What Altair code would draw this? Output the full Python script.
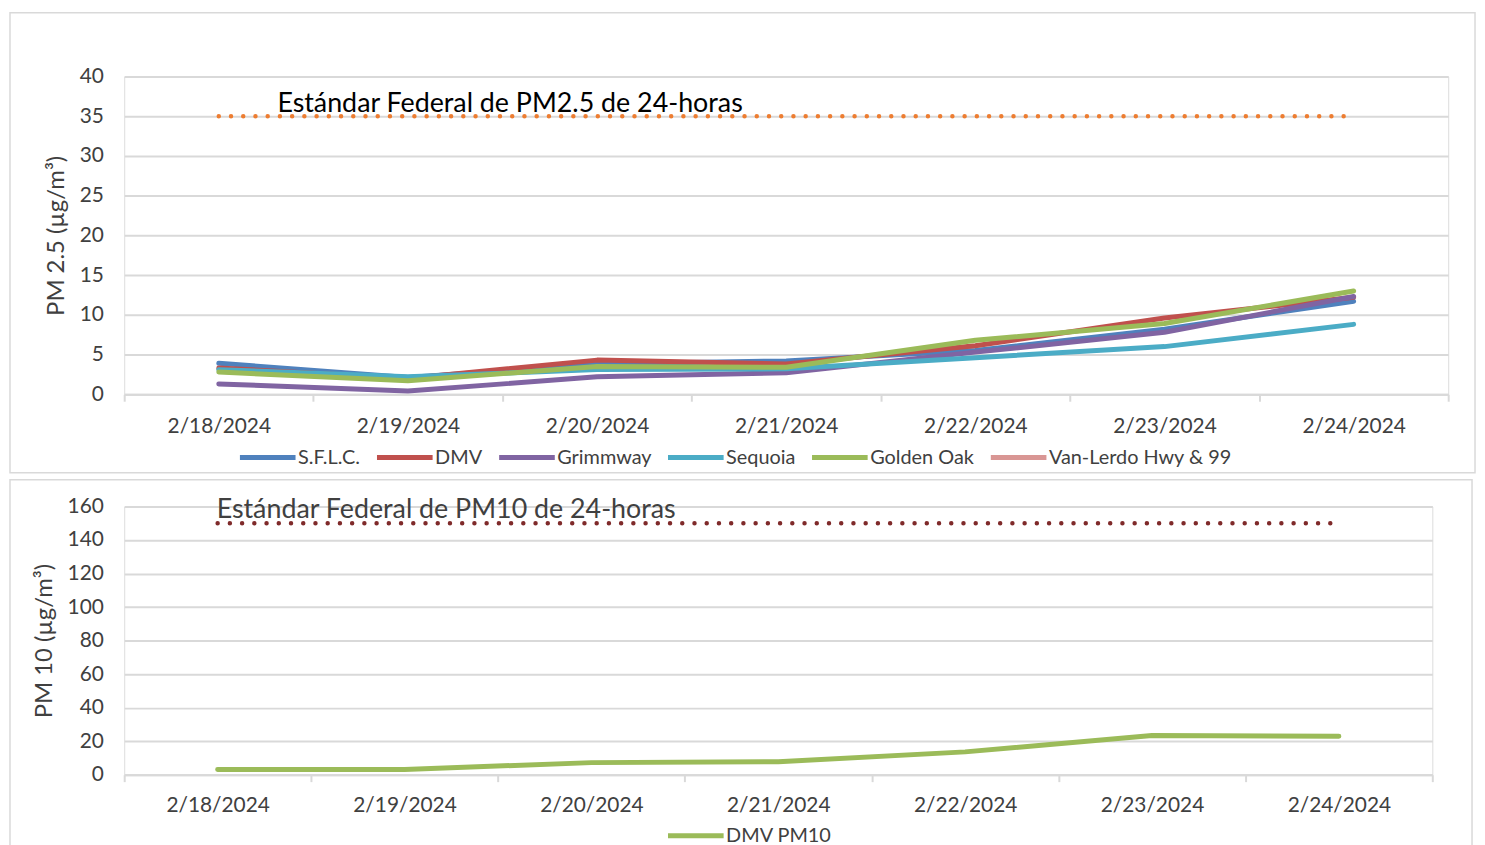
import altair as alt
import pandas as pd

dates = ["2/18/2024", "2/19/2024", "2/20/2024", "2/21/2024", "2/22/2024", "2/23/2024", "2/24/2024"]
series_names = ["S.F.L.C.", "DMV", "Grimmway", "Sequoia", "Golden Oak", "Van-Lerdo Hwy & 99"]
series_colors = ["#4F81BD", "#C0504D", "#8064A2", "#4BACC6", "#9BBB59", "#D99694"]
sflc = [3.9, 2.1, 3.8, 4.2, 5.5, 8.2, 11.7]
dmv = [3.3, 2.0, 4.3, 3.8, 6.1, 9.6, 12.2]
grimmway = [1.3, 0.4, 2.2, 2.7, 5.3, 7.8, 12.3]
sequoia = [3.1, 2.2, 3.1, 3.2, 4.6, 6.0, 8.8]
golden_oak = [2.8, 1.7, 3.5, 3.4, 6.8, 8.9, 13.0]
pm10_dmv = [3.1, 3.1, 7.2, 7.7, 13.6, 23.4, 22.9]
pm25_standard = 35
pm10_standard = 150
pm25_label = "Estándar Federal de PM2.5 de 24-horas"
pm10_label = "Estándar Federal de PM10 de 24-horas"

FONT = "Lato"
TXT = "#404040"
GRID = "#D9D9D9"

rows = []
for name, vals in zip(series_names[:5], [sflc, dmv, grimmway, sequoia, golden_oak]):
    for d, v in zip(dates, vals):
        rows.append({"date": d, "series": name, "value": v})
pm25_df = pd.DataFrame(rows)
pm10_df = pd.DataFrame({"date": dates, "series": ["DMV PM10"] * len(dates), "value": pm10_dmv})
std25_df = pd.DataFrame({"date": dates, "value": [pm25_standard] * len(dates)})
std10_df = pd.DataFrame({"date": dates, "value": [pm10_standard] * len(dates)})
lab25_df = pd.DataFrame({"date": [dates[0]], "value": [pm25_standard], "label": [pm25_label]})
lab10_df = pd.DataFrame({"date": [dates[0]], "value": [pm10_standard], "label": [pm10_label]})
one = pd.DataFrame({"k": [0]})


def xenc(pad):
    return alt.X(
        "date:O",
        bandPosition=0.5,
        scale=alt.Scale(type="band", domain=dates, paddingInner=0, paddingOuter=0),
        axis=alt.Axis(
            title=None, labelAngle=0, tickBand="extent", grid=False,
            domainColor=GRID, domainWidth=2, tickColor=GRID, tickWidth=2, tickSize=7,
            labelPadding=pad, labelFontSize=21, labelColor=TXT, labelFont=FONT,
        ),
    )


def yenc(title, dom, step):
    return alt.Y(
        "value:Q",
        scale=alt.Scale(domain=dom, nice=False, zero=True),
        axis=alt.Axis(
            title=title, values=list(range(dom[0], dom[1] + 1, step)), domain=False, ticks=False,
            grid=True, gridColor=GRID, gridWidth=2, labelPadding=21, labelFontSize=21,
            labelColor=TXT, labelFont=FONT, titleFont=FONT, titleFontSize=24,
            titleFontWeight="normal", titleColor=TXT, titlePadding=11, labelOverlap=False,
        ),
    )


def border(x1, x2, y1, y2):
    return alt.Chart(one).mark_rect(fill="transparent", stroke=GRID, strokeWidth=1.5).encode(
        x=alt.value(x1), x2=alt.value(x2), y=alt.value(y1), y2=alt.value(y2)
    )


# ---- top chart: PM2.5
Y25 = yenc("PM 2.5 (µg/m³)", [0, 40], 5)
top_lines = alt.Chart(pm25_df).mark_line(strokeWidth=5, strokeCap="round", strokeJoin="round").encode(
    x=xenc(14),
    y=Y25,
    color=alt.Color(
        "series:N",
        scale=alt.Scale(domain=series_names, range=series_colors),
        legend=alt.Legend(
            title=None, orient="none", direction="horizontal", columns=6,
            legendX=114, legendY=353, symbolType="stroke", symbolSize=3136,
            symbolStrokeWidth=5, labelFont=FONT, labelFontSize=20, labelColor=TXT,
            labelOffset=0, columnPadding=6, labelLimit=0,
        ),
    ),
    detail="series:N",
)
top_std = alt.Chart(std25_df).mark_line(
    color="#ED7D31", strokeWidth=4.5, strokeDash=[0.01, 12.3], strokeCap="round"
).encode(x=xenc(14), y=Y25)
top_lab = alt.Chart(lab25_df).mark_text(
    align="left", baseline="alphabetic", dx=59, dy=-4, font=FONT, fontSize=27, color="#000000"
).encode(x=xenc(14), y=Y25, text="label:N")

top = alt.layer(
    border(-115, 1360, -64, 399), top_lines, top_std, top_lab
).properties(width=1333, height=320)

# ---- bottom chart: PM10
Y10 = yenc("PM 10 (µg/m³)", [0, 160], 20)
bot_line = alt.Chart(pm10_df).mark_line(strokeWidth=5, strokeCap="round", strokeJoin="round").encode(
    x=xenc(13),
    y=Y10,
    color=alt.Color(
        "series:N",
        scale=alt.Scale(domain=["DMV PM10"], range=["#9BBB59"]),
        legend=alt.Legend(
            title=None, orient="none", direction="horizontal",
            legendX=545, legendY=301, symbolType="stroke", symbolSize=3136,
            symbolStrokeWidth=5, labelFont=FONT, labelFontSize=20, labelColor=TXT,
            labelOffset=0, labelLimit=0,
        ),
    ),
)
bot_std = alt.Chart(std10_df).mark_line(
    color="#7F2A2A", strokeWidth=4.5, strokeDash=[0.01, 12.3], strokeCap="round"
).encode(x=xenc(13), y=Y10)
bot_lab = alt.Chart(lab10_df).mark_text(
    align="left", baseline="alphabetic", dx=-1, dy=-5, font=FONT, fontSize=27, color=TXT
).encode(x=xenc(13), y=Y10, text="label:N")

bottom = alt.layer(
    border(-115, 1357, -27, 350), bot_line, bot_std, bot_lab
).properties(width=1317, height=270)

chart = alt.vconcat(top, bottom, spacing=113, bounds="flush").resolve_scale(
    color="independent", x="independent", y="independent"
).properties(padding=0).configure_view(stroke=None).configure(font=FONT)

chart.save("out.html", embed_options={"renderer": "svg", "actions": False})
